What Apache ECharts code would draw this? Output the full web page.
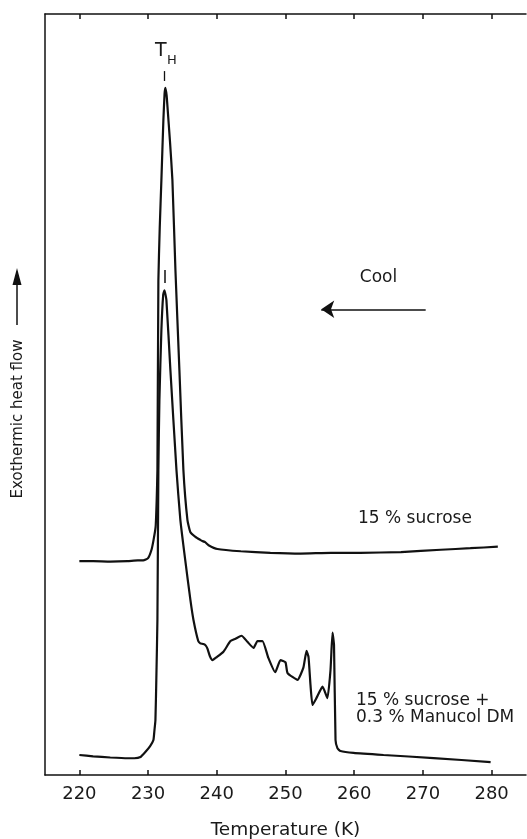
<!DOCTYPE html>
<html>
<head>
<meta charset="utf-8">
<title>Exothermic heat flow on cooling</title>
<script src="https://cdn.jsdelivr.net/npm/echarts@6/dist/echarts.min.js"></script>
<style>
  html, body { margin: 0; padding: 0; background: #ffffff; }
  #chart { width: 527px; height: 839px; }
</style>
</head>
<body>
<div id="chart"></div>
<script>
// Temperature ticks (K)
const tempTicks = [220, 230, 240, 250, 260, 270, 280];

// 15 % sucrose: temperature (K) and exothermic heat flow (arbitrary units)
const sucroseTemp = [220.0, 222.0, 224.5, 227.0, 228.5, 229.3, 230.0, 230.5, 230.8, 231.1, 231.25, 231.36,
  231.5, 231.7, 231.94, 232.23, 232.4, 232.52, 232.7, 232.81, 233.2, 233.54, 233.98, 234.56, 235.14,
  235.73, 236.16, 236.89, 237.6, 237.9, 238.3, 238.8, 240.1, 243.5, 247.8, 252.2, 256.6, 260.9, 266.8,
  272.6, 276.9, 280.9];
const sucroseFlow = [28.1, 28.1, 28.05, 28.1, 28.2, 28.2, 28.5, 29.6, 30.9, 32.6, 36.0, 40.1,
  65.0, 72.0, 78.2, 86.1, 89.5, 90.3, 89.3, 88.0, 83.1, 78.2, 66.4, 53.2, 40.1,
  33.5, 31.9, 31.3, 30.9, 30.75, 30.6, 30.2, 29.7, 29.4, 29.2, 29.1, 29.2, 29.2, 29.3,
  29.6, 29.8, 30.0];

// 15 % sucrose + 0.3 % Manucol DM
const manucolTemp = [220.0, 222.0, 224.5, 227.0, 228.0, 228.9, 229.6, 230.3, 230.78, 230.93, 231.07, 231.2,
  231.36, 231.5, 231.65, 231.94, 232.2, 232.38, 232.67, 233.25, 234.13, 234.7, 235.4, 236.16, 236.6,
  237.3, 237.6, 238.06, 238.4, 238.64, 239.0, 239.37, 240.0, 240.97, 241.99, 242.72, 243.6, 244.46,
  245.34, 245.92, 246.65, 247.5, 248.5, 249.27, 250.0, 250.3, 251.75, 252.6, 253.06, 253.35, 253.64,
  253.93, 254.5, 255.39, 256.1, 256.55, 256.84, 257.06, 257.28, 257.57, 258.0, 259.9, 264.27, 271.55,
  279.85];
const manucolFlow = [2.63, 2.45, 2.3, 2.2, 2.2, 2.37, 3.02, 3.8, 4.6, 5.9, 7.2, 12.5,
  20.4, 40.1, 49.3, 58.5, 63.1, 63.7, 62.4, 53.2, 40.1, 33.5, 28.3, 23.0, 20.4,
  17.6, 17.3, 17.2, 17.0, 16.6, 15.6, 15.1, 15.5, 16.2, 17.6, 17.9, 18.3, 17.5,
  16.7, 17.6, 17.6, 15.4, 13.5, 15.1, 14.8, 13.4, 12.5, 14.1, 16.3, 15.5, 11.8,
  9.2, 10.1, 11.6, 10.1, 13.8, 18.7, 17.1, 4.6, 3.5, 3.15, 2.9, 2.63, 2.23,
  1.7];

// Homogeneous nucleation temperature T_H
const peakTemp = 232.4;

const zip = (xs, ys) => xs.map((x, i) => [x, ys[i]]);

const INK = '#111111';
const FONT = "'DejaVu Sans', sans-serif";

const textPoint = (coord, text, size, align) => ({
  coord: coord,
  symbol: 'circle',
  symbolSize: 1,
  itemStyle: { color: 'rgba(0,0,0,0)' },
  label: {
    show: true,
    position: align === 'left' ? 'right' : 'inside',
    distance: 0,
    formatter: text,
    color: '#1a1a1a',
    fontFamily: FONT,
    fontSize: size,
    lineHeight: 17,
    align: align,
    verticalAlign: 'middle'
  }
});

const chart = echarts.init(document.getElementById('chart'), null, { renderer: 'canvas' });

const sharedX = {
  type: 'value',
  min: 215,
  max: 285,
  splitLine: { show: false },
  axisLine: { show: true, onZero: false, lineStyle: { color: INK, width: 1.5 } },
  axisTick: { show: true, inside: true, length: 5, customValues: tempTicks, lineStyle: { color: INK, width: 1.5 } }
};

chart.setOption({
  backgroundColor: '#ffffff',
  animation: false,
  grid: { left: 45, right: 1, top: 14, bottom: 64, outerBoundsMode: 'none', containLabel: false },
  xAxis: [
    Object.assign({}, sharedX, {
      position: 'bottom',
      name: 'Temperature (K)',
      nameLocation: 'middle',
      nameGap: 46,
      nameTextStyle: { color: '#1a1a1a', fontFamily: FONT, fontSize: 18.5 },
      axisLabel: { show: true, customValues: tempTicks, margin: 10, color: '#1a1a1a', fontFamily: FONT, fontSize: 18 }
    }),
    Object.assign({}, sharedX, {
      position: 'top',
      axisLabel: { show: false }
    })
  ],
  yAxis: {
    type: 'value',
    min: 0,
    max: 100,
    splitLine: { show: false },
    axisTick: { show: false },
    axisLabel: { show: false },
    axisLine: { show: true, lineStyle: { color: INK, width: 1.5 } }
  },
  graphic: [
    {
      type: 'text',
      x: 18, y: 419,
      rotation: Math.PI / 2,
      style: {
        text: 'Exothermic heat flow',
        fill: '#1a1a1a',
        font: "15px 'DejaVu Sans', sans-serif",
        textAlign: 'center',
        textVerticalAlign: 'middle'
      }
    },
    {
      type: 'line',
      shape: { x1: 17, y1: 325, x2: 17, y2: 282 },
      style: { stroke: INK, lineWidth: 1.5 }
    },
    {
      type: 'polygon',
      shape: { points: [[17, 268], [12.5, 285], [21.5, 285]] },
      style: { fill: INK }
    }
  ],
  series: [
    {
      name: '15 % sucrose',
      type: 'line',
      data: zip(sucroseTemp, sucroseFlow),
      showSymbol: false,
      smooth: 0.15,
      lineStyle: { color: INK, width: 2.2 },
      markLine: {
        silent: true,
        symbol: 'none',
        label: { show: false },
        lineStyle: { color: INK, width: 1.3, type: 'solid' },
        data: [[{ coord: [peakTemp, 91.2] }, { coord: [peakTemp, 92.5] }]]
      },
      markPoint: {
        silent: true,
        data: [
          textPoint([231.87, 95.15], 'T', 19, 'center'),
          textPoint([233.47, 93.9], 'H', 13, 'center'),
          textPoint([260.48, 33.66], '15 % sucrose', 17, 'left')
        ]
      }
    },
    {
      name: '15 % sucrose + 0.3 % Manucol DM',
      type: 'line',
      data: zip(manucolTemp, manucolFlow),
      showSymbol: false,
      smooth: 0.15,
      lineStyle: { color: INK, width: 2.2 },
      markLine: {
        silent: true,
        label: { show: false },
        lineStyle: { color: INK, width: 1.5, type: 'solid' },
        data: [
          [{ coord: [peakTemp, 64.65], symbol: 'none' }, { coord: [peakTemp, 66.36], symbol: 'none' }],
          [{ coord: [270.4, 61.2], symbol: 'none' }, { coord: [255.2, 61.2], symbol: 'arrow', symbolSize: 13 }]
        ]
      },
      markPoint: {
        silent: true,
        data: [
          textPoint([263.54, 65.3], 'Cool', 17, 'center'),
          textPoint([260.19, 8.6], '15 % sucrose +\n0.3 % Manucol DM', 17, 'left')
        ]
      }
    }
  ]
});
</script>
</body>
</html>
